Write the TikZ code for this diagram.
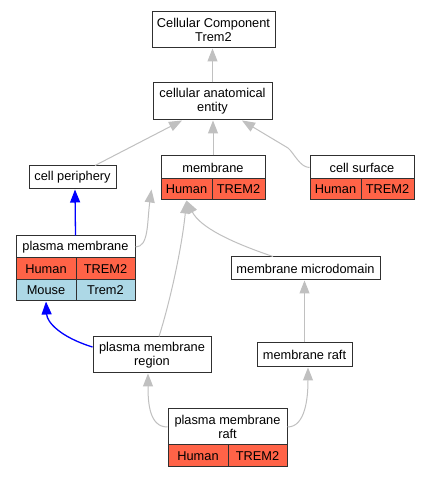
\documentclass[tikz,border=0pt]{standalone}
\usepackage{fontspec}
\setmainfont{Liberation Sans}
\usetikzlibrary{arrows.meta}
\definecolor{tomatored}{HTML}{FF6347}
\definecolor{lblue}{HTML}{ADD8E6}
\definecolor{edgegray}{HTML}{C0C0C0}
\definecolor{bordergray}{HTML}{303030}
\begin{document}
\begin{tikzpicture}[x=1pt,y=1pt,
  box/.style={draw=bordergray, line width=1pt, fill=white, inner sep=0pt,
    font=\fontsize{12.8}{14}\selectfont, align=center, text=black},
  redcell/.style={box, fill=tomatored},
  bluecell/.style={box, fill=lblue},
  gedge/.style={draw=edgegray, line width=1pt, -{Triangle[length=13pt,width=10pt]}},
  bedge/.style={draw=blue, line width=1.3pt, -{Triangle[length=13pt,width=10pt]}}]
\useasboundingbox (0,0) rectangle (431,477);
\fill[white] (0,0) rectangle (431,477);
% nodes
\node[box, minimum width=123pt, minimum height=36pt] (cc) at (213.5,447) {Cellular Component\\Trem2};
\node[box, minimum width=119pt, minimum height=37pt] (anat) at (212.5,375.5) {cellular anatomical\\entity};
\node[box, minimum width=104pt, minimum height=23pt] (memb) at (213,309.5) {membrane};
\node[redcell, minimum width=51pt, minimum height=21pt] (mh) at (186.5,287.5) {Human};
\node[redcell, minimum width=53pt, minimum height=21pt] (mt) at (238.5,287.5) {TREM2};
\node[box, minimum width=104pt, minimum height=23pt] (cs) at (362,309.5) {cell surface};
\node[redcell, minimum width=51pt, minimum height=21pt] (csh) at (335.5,287.5) {Human};
\node[redcell, minimum width=53pt, minimum height=21pt] (cst) at (387.5,287.5) {TREM2};
\node[box, minimum width=87pt, minimum height=23pt] (per) at (72.5,299.5) {cell periphery};
\node[box, minimum width=119pt, minimum height=22pt] (pm) at (75.5,230) {plasma membrane};
\node[redcell, minimum width=60pt, minimum height=22pt] (pmh) at (46,208) {Human};
\node[redcell, minimum width=59pt, minimum height=22pt] (pmt) at (105.5,208) {TREM2};
\node[bluecell, minimum width=60pt, minimum height=21pt] (pmm) at (46,186.5) {Mouse};
\node[bluecell, minimum width=59pt, minimum height=21pt] (pmmt) at (105.5,186.5) {Trem2};
\node[box, minimum width=149pt, minimum height=23pt] (md) at (305.5,208.5) {membrane microdomain};
\node[box, minimum width=118pt, minimum height=36pt] (pmr) at (152,122) {plasma membrane\\region};
\node[box, minimum width=95pt, minimum height=24pt] (mr) at (304.5,122) {membrane raft};
\node[box, minimum width=119pt, minimum height=36pt] (pmra) at (227.5,50) {plasma membrane\\raft};
\node[redcell, minimum width=60pt, minimum height=22pt] (prh) at (198,21) {Human};
\node[redcell, minimum width=59pt, minimum height=22pt] (prt) at (257.5,21) {TREM2};
% edges
\draw[gedge] (anat.north) -- (anat.north |- cc.south);
\draw[gedge] (memb.north) -- (memb.north |- anat.south);
\draw[gedge] ([xshift=22.5pt]per.north) -- ([xshift=-30.5pt]anat.south);
\draw[gedge] (cs.west) .. controls (300,309.5) and (294,324) .. (288,329) -- ([xshift=29.5pt]anat.south);
\draw[bedge] (pm.north) -- ([xshift=2.5pt]per.south);
\draw[gedge] (pm.east) .. controls (149,230) and (147,255) .. ([xshift=-9pt]mh.west);
\draw[gedge] ([xshift=-32.5pt]md.north) .. controls (230,235) and (200,250) .. (mh.south);
\draw[gedge] ([xshift=7pt]pmr.north) .. controls (170,175) and (182,230) .. (mh.south);
\draw[bedge] ([yshift=8pt]pmr.west) .. controls (60,140) and (47,155) .. (pmm.south);
\draw[gedge] (mr.north) -- (mr.north |- md.south);
\draw[gedge] (pmra.west) .. controls +(-18,0) and +(0,-30) .. ([xshift=-4pt]pmr.south);
\draw[gedge] (pmra.east) .. controls +(18,0) and +(0,-30) .. ([xshift=3.5pt]mr.south);
\end{tikzpicture}
\end{document}
